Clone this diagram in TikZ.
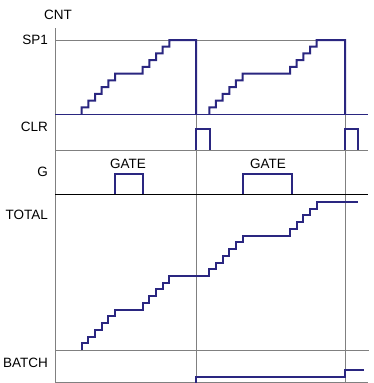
\documentclass[tikz,border=0pt]{standalone}
\usepackage{fontspec}
\setmainfont{Liberation Sans}
\begin{document}
\begin{tikzpicture}[x=1pt,y=-1pt,
  sig/.style={draw=sigblue,line width=2pt,line join=miter},
  grid/.style={draw=black!50,line width=0.9pt},
  lbl/.style={font=\fontsize{13.5}{15}\selectfont,inner sep=0pt},
  rlbl/.style={lbl,anchor=east}]
\definecolor{sigblue}{RGB}{42,38,128}
\useasboundingbox (0,0) rectangle (374,383);
\pgfmathsetmacro{\dy}{74/11}
\def\dx{6.67}
% grid lines
\draw[grid] (55,28) -- (55,383);
\draw[grid] (55,40) -- (345,40);
\draw[grid] (55,150) -- (368,150);
\draw[grid] (55,350) -- (369,350);
\draw[grid] (55,382.5) -- (368,382.5);
\draw[grid] (196,40) -- (196,383);
\draw[grid] (345,40) -- (345,383);
\draw[draw=sigblue,line width=0.9pt] (55,114) -- (368,114);
\draw[draw=black,line width=0.9pt] (55,194) -- (368,194);
% labels
\node[lbl] (cnt) at (58,15) {CNT};
\node[rlbl] (sp1) at (48,40) {SP1};
\node[rlbl] (clr) at (48,127) {CLR};
\node[rlbl] (g) at (48,172) {G};
\node[rlbl] (total) at (48,215) {TOTAL};
\node[rlbl] (batch) at (48,363) {BATCH};
\node[lbl] (gate1) at (128,164) {GATE};
\node[lbl] (gate2) at (268,164) {GATE};
% CNT cycle 1
\draw[sig] (81.7,114) \foreach \i in {1,...,5}{ -- ++(0,-\dy) -- ++(\dx,0)} -- ++(0,-\dy) -- ++(27.65,0)
  \foreach \i in {1,...,4}{ -- ++(0,-\dy) -- ++(\dx,0)} -- ++(0,-\dy) -- (196,40) -- (196,114);
% CNT cycle 2
\draw[sig] (209.3,114) \foreach \i in {1,...,5}{ -- ++(0,-\dy) -- ++(\dx,0)} -- ++(0,-\dy) -- ++(47.35,0)
  \foreach \i in {1,...,4}{ -- ++(0,-\dy) -- ++(\dx,0)} -- ++(0,-\dy) -- (345,40) -- (345,114);
% CLR pulses
\draw[sig] (196,150) -- (196,129) -- (210,129) -- (210,150);
\draw[sig] (345,150) -- (345,129) -- (358,129) -- (358,150);
% GATE pulses
\draw[sig] (115,194) -- (115,174) -- (143,174) -- (143,194);
\draw[sig] (243,194) -- (243,174) -- (292,174) -- (292,194);
% TOTAL
\draw[sig] (81.7,350) \foreach \i in {1,...,5}{ -- ++(0,-\dy) -- ++(\dx,0)} -- ++(0,-\dy) -- ++(27.65,0)
  \foreach \i in {1,...,4}{ -- ++(0,-\dy) -- ++(\dx,0)} -- ++(0,-\dy) -- ++(39.9,0)
  \foreach \i in {1,...,5}{ -- ++(0,-\dy) -- ++(\dx,0)} -- ++(0,-\dy) -- ++(47.35,0)
  \foreach \i in {1,...,4}{ -- ++(0,-\dy) -- ++(\dx,0)} -- ++(0,-\dy) -- ++(41,0);
% BATCH
\draw[sig] (196,382.5) -- (196,376.5) -- (345,376.5) -- (345,369.5) -- (364,369.5);
\end{tikzpicture}
\end{document}
